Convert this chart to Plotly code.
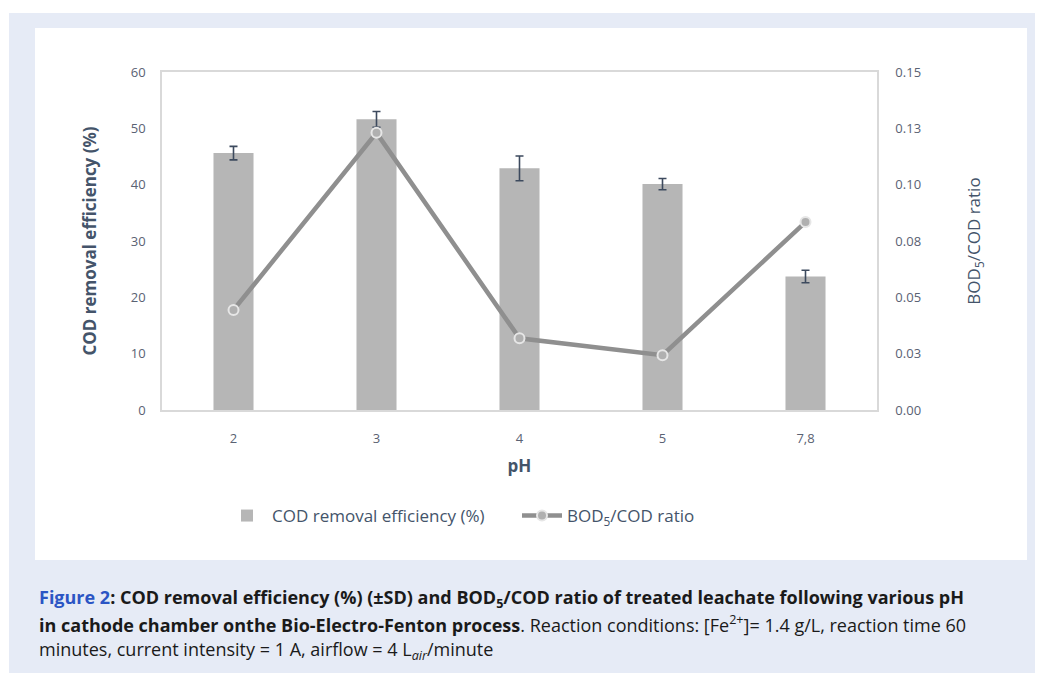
import plotly.graph_objects as go

categories = ["2", "3", "4", "5", "7,8"]
cod_removal = [45.6, 51.6, 42.9, 40.1, 23.7]
cod_sd = [1.2, 1.4, 2.2, 1.0, 1.1]
bod_cod_ratio = [0.0444, 0.123, 0.0318, 0.0243, 0.0834]
left_ticks = [0, 10, 20, 30, 40, 50, 60]
right_tickvals = [0, 0.025, 0.05, 0.075, 0.1, 0.125, 0.15]
right_ticktext = ["0.00", "0.03", "0.05", "0.08", "0.10", "0.13", "0.15"]

OFF = 8  # page body margin
W, H = 1043, 673
L, R, T, B = 162 - OFF, 877 - OFF, 72 - OFF, 410 - OFF  # plot area in figure pixels


def px(x):
    return (x - OFF - L) / (R - L)


def py(y):
    return (B - (y - OFF)) / (B - T)


tick_col = "#5a6273"
title_col = "#44546a"
font_fam = "Open Sans, Noto Sans, sans-serif"

fig = go.Figure()
fig.add_trace(go.Bar(
    x=categories, y=cod_removal, name="COD removal efficiency (%)",
    marker=dict(color="#b6b6b6", line=dict(width=0)),
    width=0.28,
    error_y=dict(type="data", array=cod_sd, color="#3d4a5e", thickness=1.6, width=4),
))
fig.add_trace(go.Scatter(
    x=categories, y=bod_cod_ratio, name="BOD<sub>5</sub>/COD ratio", yaxis="y2",
    mode="lines+markers",
    line=dict(color="#8f8f8f", width=4.5),
    marker=dict(symbol="circle", size=10, color="#b0b0b0", line=dict(color="#e6e6e6", width=2)),
))

shapes = [
    dict(type="rect", xref="paper", yref="paper", layer="below",
         x0=px(9), x1=px(W + 20), y0=py(H + 20), y1=py(13),
         fillcolor="#e6ebf6", line=dict(width=0)),
    dict(type="rect", xref="paper", yref="paper", layer="below",
         x0=px(35), x1=px(1027), y0=py(560), y1=py(28),
         fillcolor="white", line=dict(width=0)),
]

cap_font = dict(family="Open Sans, Noto Sans, sans-serif", size=18, color="#1a1a1a")
annotations = [
    dict(xref="paper", yref="paper", x=px(37), y=py(598), xanchor="left", yanchor="middle",
         showarrow=False, font=cap_font,
         text="<b><span style='color:#2b55c4'>Figure 2</span>: COD removal efficiency (%) (±SD) and BOD<sub>5</sub>/COD ratio of treated leachate following various pH</b>"),
    dict(xref="paper", yref="paper", x=px(37), y=py(624), xanchor="left", yanchor="middle",
         showarrow=False, font=cap_font,
         text="<b>in cathode chamber onthe Bio-Electro-Fenton process</b>. Reaction conditions: [Fe<sup>2+</sup>]= 1.4 g/L, reaction time 60"),
    dict(xref="paper", yref="paper", x=px(37), y=py(650), xanchor="left", yanchor="middle",
         showarrow=False, font=cap_font,
         text="minutes, current intensity = 1 A, airflow = 4 L<sub><i>air</i></sub>/minute"),
]

fig.update_layout(
    width=W, height=H,
    margin=dict(l=L, r=W - R, t=T, b=H - B),
    paper_bgcolor="white", plot_bgcolor="white",
    font=dict(family=font_fam, color=tick_col, size=13),
    showlegend=True,
    legend=dict(orientation="h", x=px(222), y=py(498), xanchor="left", yanchor="top",
                font=dict(size=17, color=title_col), bgcolor="rgba(0,0,0,0)",
                itemwidth=40, tracegroupgap=0, entrywidth=240),
    xaxis=dict(
        type="category", showline=True, linecolor="#d9d9d9", linewidth=1.5, mirror=True,
        ticks="", tickfont=dict(size=13, color=tick_col), showgrid=False,
        ticklabelstandoff=16,
        title=dict(text="<b>pH</b>", font=dict(size=17, color=title_col), standoff=14),
    ),
    yaxis=dict(
        range=[0, 60], tickvals=left_ticks, showgrid=False, zeroline=False,
        showline=True, linecolor="#d9d9d9", linewidth=1.5, ticks="",
        tickfont=dict(size=13, color=tick_col), ticklabelstandoff=12,
        title=dict(text="<b>COD removal efficiency (%)</b>", font=dict(size=17, color=title_col), standoff=30),
    ),
    yaxis2=dict(
        range=[0, 0.15], tickvals=right_tickvals, ticktext=right_ticktext,
        overlaying="y", side="right", showgrid=False, zeroline=False,
        showline=True, linecolor="#d9d9d9", linewidth=1.5, ticks="",
        tickfont=dict(size=13, color=tick_col), ticklabelstandoff=14,
        title=dict(text="BOD<sub>5</sub>/COD ratio", font=dict(size=17, color=title_col), standoff=48),
    ),
    shapes=shapes,
    annotations=annotations,
)

fig.write_html("out.html")
